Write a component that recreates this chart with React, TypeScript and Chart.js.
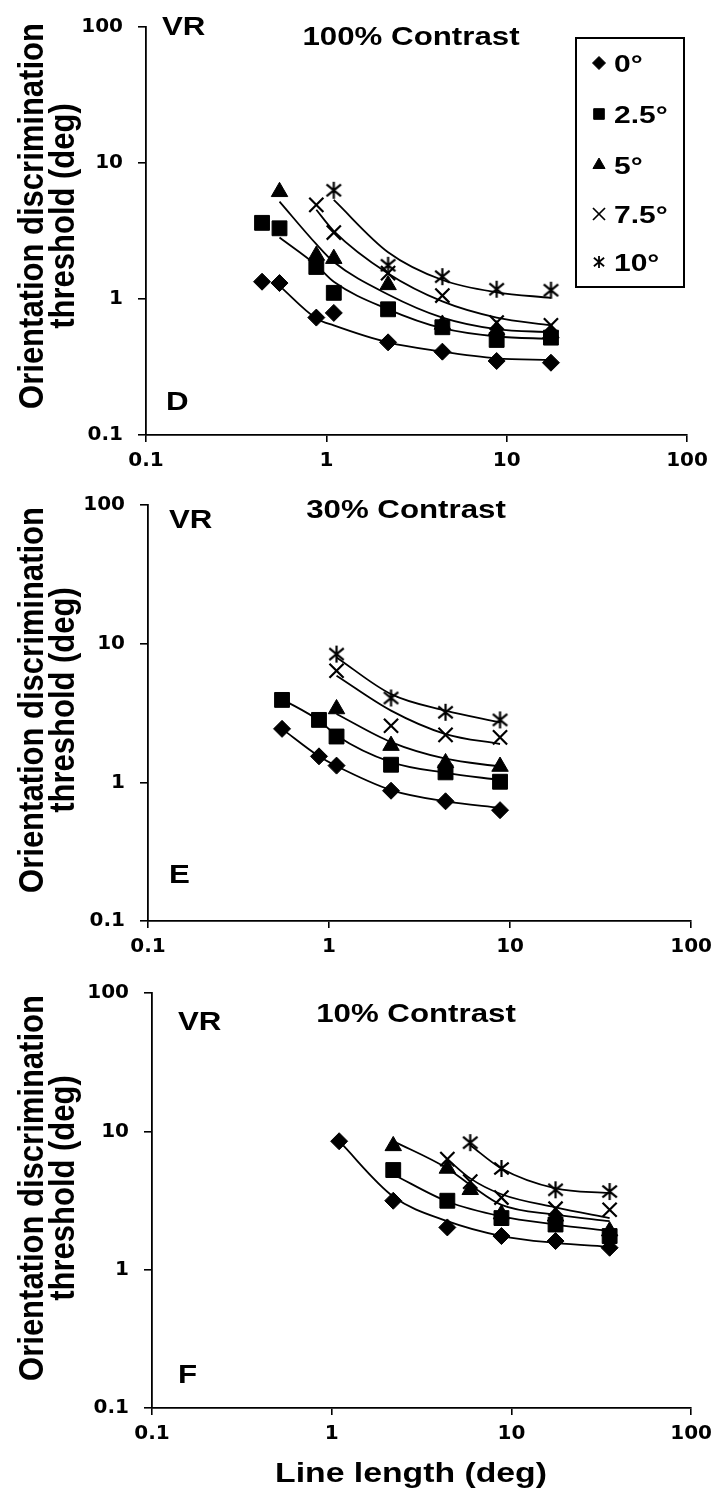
import React, { useEffect, useRef } from 'react';
import { Chart, registerables } from 'chart.js';
import { drawPoint } from 'chart.js/helpers';

Chart.register(...registerables);

const TICK_FONT = '"DejaVu Sans", "Liberation Sans", sans-serif';
const TEXT_FONT = '"Liberation Sans", Arial, sans-serif';
const STRETCH = 1.25; // the printed figure is widened horizontally
const TITLE_STRETCH = 1.12;

// ---------- labels ----------
const seriesLabels = ['0°', '2.5°', '5°', '7.5°', '10°'];
const xTickValues = [0.1, 1, 10, 100];
const yTickValues = [0.1, 1, 10, 100];
const yTitleLines = ['Orientation discrimination', 'threshold (deg)'];
const xTitleText = 'Line length (deg)';
const observer = 'VR';

// ---------- Panel D : 100% contrast ----------
const lenD = [0.44, 0.55, 0.88, 1.1, 2.2, 4.4, 8.8, 17.6];
const thrD0 = [1.34, 1.31, 0.73, 0.79, 0.48, 0.41, 0.35, 0.34];
const thrD25 = [3.63, 3.31, 1.72, 1.11, 0.84, 0.62, 0.5, 0.52];
const thrD5 = [null, 6.14, 2.09, 1.98, 1.27, 0.65, 0.59, 0.56];
const thrD75 = [null, null, 4.92, 3.08, 1.55, 1.06, 0.67, 0.64];
const thrD10 = [null, null, null, 6.3, 1.77, 1.46, 1.18, 1.16];
const fitD0 = [null, 1.25, 0.72, 0.64, 0.48, 0.41, 0.366, 0.356];
const fitD25 = [null, 2.83, 1.77, 1.34, 0.84, 0.61, 0.53, 0.51];
const fitD5 = [null, 5.2, 2.53, 1.87, 1.08, 0.73, 0.6, 0.57];
const fitD75 = [null, null, 4.53, 3.16, 1.54, 0.96, 0.73, 0.64];
const fitD10 = [null, null, null, 5.35, 2.21, 1.38, 1.12, 1.02];

// ---------- Panel E : 30% contrast ----------
const lenE = [0.55, 0.88, 1.1, 2.2, 4.4, 8.8];
const thrE0 = [2.43, 1.54, 1.32, 0.87, 0.73, 0.63];
const thrE25 = [3.93, 2.82, 2.14, 1.34, 1.18, 1.01];
const thrE5 = [null, null, 3.38, 1.84, 1.38, 1.3];
const thrE75 = [null, null, 6.38, 2.56, 2.2, 2.11];
const thrE10 = [null, null, 8.41, 4.06, 3.2, 2.82];
const fitE0 = [2.43, 1.54, 1.31, 0.88, 0.73, 0.655];
const fitE25 = [3.98, 2.79, 2.18, 1.4, 1.17, 1.04];
const fitE5 = [null, null, 3.11, 1.95, 1.48, 1.3];
const fitE75 = [null, null, 5.87, 3.29, 2.23, 1.89];
const fitE10 = [null, null, 7.96, 4.33, 3.29, 2.71];

// ---------- Panel F : 10% contrast ----------
const lenF = [1.1, 2.2, 4.4, 5.9, 8.8, 17.6, 35.2];
const thrF0 = [8.48, 3.15, 2.02, null, 1.75, 1.61, 1.44];
const thrF25 = [null, 5.25, 3.15, null, 2.36, 2.12, 1.75];
const thrF5 = [null, 7.85, 5.39, 3.78, 2.52, 2.43, 1.9];
const thrF75 = [null, null, 6.3, 4.33, 3.32, 2.76, 2.71];
const thrF10 = [null, null, null, 8.28, 5.39, 3.78, 3.67];
const fitF0 = [8.48, 3.38, 2.24, null, 1.75, 1.56, 1.46];
const fitF25 = [null, 4.88, 3.11, null, 2.43, 2.12, 1.9];
const fitF5 = [null, 8.5, 5.39, 4.1, 2.94, 2.5, 2.24];
const fitF75 = [null, null, 6.3, 4.57, 3.51, 2.82, 2.36];
const fitF10 = [null, null, null, 7.94, 5.39, 3.87, 3.57];

// ---------- marker helpers ----------
function makeAsterisk(size: number, lw: number) {
  const c = document.createElement('canvas');
  c.width = size;
  c.height = size;
  const g = c.getContext('2d')!;
  g.strokeStyle = '#000';
  g.lineWidth = lw;
  const m = size / 2;
  const r = size / 2 - 1;
  g.beginPath();
  g.moveTo(m, m - r);
  g.lineTo(m, m + r);
  g.moveTo(m - r * 0.85, m - r * 0.7);
  g.lineTo(m + r * 0.85, m + r * 0.7);
  g.moveTo(m - r * 0.85, m + r * 0.7);
  g.lineTo(m + r * 0.85, m - r * 0.7);
  g.stroke();
  return c;
}

const asteriskBig = makeAsterisk(19, 2.2);
const asteriskSmall = makeAsterisk(14, 1.8);

const markerDefs: any[] = [
  { style: 'rectRot', radius: 8.5, border: 1 },
  { style: 'rect', radius: 10.5, border: 1 },
  { style: 'triangle', radius: 9.5, border: 1 },
  { style: 'crossRot', radius: 10, border: 2.2 },
  { style: asteriskBig, radius: 9, border: 1 },
];
const legendMarkerDefs: any[] = [
  { style: 'rectRot', radius: 6.5, border: 1 },
  { style: 'rect', radius: 7.5, border: 1 },
  { style: 'triangle', radius: 7, border: 1 },
  { style: 'crossRot', radius: 8.5, border: 1.7 },
  { style: asteriskSmall, radius: 6, border: 1 },
];

function toPoints(xs: number[], ys: (number | null)[]) {
  const out: { x: number; y: number }[] = [];
  xs.forEach((x, i) => {
    const y = ys[i];
    if (y !== null && y !== undefined) out.push({ x, y });
  });
  return out;
}

type TextSpec = { text: string; x: number; y: number; size: number; align: CanvasTextAlign };

type PanelSpec = {
  top: number;
  height: number;
  plotTop: number;
  plotBottom: number;
  plotLeft: number;
  plotRight: number;
  len: number[];
  thr: (number | null)[][];
  fit: (number | null)[][];
  yTitleCenter: number;
  texts: TextSpec[];
  legend: boolean;
};

const panels: PanelSpec[] = [
  {
    top: 0,
    height: 475,
    plotTop: 21,
    plotBottom: 435,
    plotLeft: 146,
    plotRight: 687,
    len: lenD,
    thr: [thrD0, thrD25, thrD5, thrD75, thrD10],
    fit: [fitD0, fitD25, fitD5, fitD75, fitD10],
    yTitleCenter: 216,
    texts: [
      { text: observer, x: 162, y: 35, size: 25, align: 'left' },
      { text: '100% Contrast', x: 411, y: 45, size: 25, align: 'center' },
      { text: 'D', x: 166, y: 410, size: 25, align: 'left' },
    ],
    legend: true,
  },
  {
    top: 478,
    height: 480,
    plotTop: 504,
    plotBottom: 921,
    plotLeft: 148,
    plotRight: 697,
    len: lenE,
    thr: [thrE0, thrE25, thrE5, thrE75, thrE10],
    fit: [fitE0, fitE25, fitE5, fitE75, fitE10],
    yTitleCenter: 700,
    texts: [
      { text: observer, x: 169, y: 528, size: 25, align: 'left' },
      { text: '30% Contrast', x: 406, y: 518, size: 25, align: 'center' },
      { text: 'E', x: 169, y: 883, size: 25, align: 'left' },
    ],
    legend: false,
  },
  {
    top: 962,
    height: 533,
    plotTop: 993,
    plotBottom: 1408,
    plotLeft: 152,
    plotRight: 697,
    len: lenF,
    thr: [thrF0, thrF25, thrF5, thrF75, thrF10],
    fit: [fitF0, fitF25, fitF5, fitF75, fitF10],
    yTitleCenter: 1188,
    texts: [
      { text: observer, x: 178, y: 1030, size: 25, align: 'left' },
      { text: '10% Contrast', x: 416, y: 1022, size: 25, align: 'center' },
      { text: 'F', x: 178, y: 1383, size: 25, align: 'left' },
      { text: xTitleText, x: 411, y: 1482, size: 27, align: 'center' },
    ],
    legend: false,
  },
];

function stretchedText(ctx: CanvasRenderingContext2D, text: string, x: number, y: number, size: number, align: CanvasTextAlign) {
  ctx.save();
  ctx.font = `bold ${size}px ${TEXT_FONT}`;
  ctx.textAlign = align;
  ctx.textBaseline = 'alphabetic';
  ctx.translate(x, y);
  ctx.scale(STRETCH, 1);
  ctx.fillText(text, 0, 0);
  ctx.restore();
}

function makeOverlay(p: PanelSpec) {
  return {
    id: 'panelOverlay',
    afterDraw(chart: any) {
      const ctx: CanvasRenderingContext2D = chart.ctx;
      ctx.save();
      ctx.fillStyle = '#000';
      ctx.strokeStyle = '#000';
      // y-axis title (two lines, rotated)
      ctx.font = `bold 31px ${TEXT_FONT}`;
      ctx.textAlign = 'center';
      ctx.textBaseline = 'middle';
      yTitleLines.forEach((line, i) => {
        ctx.save();
        ctx.translate(33 + i * 31, p.yTitleCenter - p.top);
        ctx.scale(TITLE_STRETCH, 1);
        ctx.rotate(-Math.PI / 2);
        ctx.fillText(line, 0, 0);
        ctx.restore();
      });
      // panel texts
      p.texts.forEach((t) => stretchedText(ctx, t.text, t.x, t.y - p.top, t.size, t.align));
      // legend
      if (p.legend) {
        ctx.lineWidth = 2;
        ctx.strokeRect(576, 38 - p.top, 108, 249);
        const rows = [63, 114, 165, 214, 262];
        seriesLabels.forEach((lab, i) => {
          const md = legendMarkerDefs[i];
          ctx.fillStyle = '#000';
          ctx.strokeStyle = '#000';
          ctx.lineWidth = md.border;
          drawPoint(ctx, { pointStyle: md.style, radius: md.radius, rotation: 0, borderWidth: md.border }, 599, rows[i] - p.top);
          stretchedText(ctx, lab, 614, rows[i] + 8.5 - p.top, 24, 'left');
        });
      }
      ctx.restore();
    },
  };
}

function buildConfig(p: PanelSpec): any {
  const datasets: any[] = [];
  p.fit.forEach((f, i) => {
    datasets.push({
      label: seriesLabels[i] + ' fit',
      data: toPoints(p.len, f),
      showLine: true,
      borderColor: '#000',
      borderWidth: 1.8,
      pointRadius: 0,
      pointHoverRadius: 0,
      cubicInterpolationMode: 'monotone',
      fill: false,
      order: 2,
    });
  });
  p.thr.forEach((t, i) => {
    const md = markerDefs[i];
    datasets.push({
      label: seriesLabels[i],
      data: toPoints(p.len, t),
      showLine: false,
      pointStyle: md.style,
      pointRadius: md.radius,
      pointHoverRadius: md.radius,
      pointBackgroundColor: '#000',
      pointBorderColor: '#000',
      pointBorderWidth: md.border,
      order: 1,
    });
  });
  const tickFont = { family: TICK_FONT, size: 20, weight: 'bold' as const };
  return {
    type: 'scatter',
    data: { datasets },
    options: {
      animation: false,
      responsive: false,
      maintainAspectRatio: false,
      events: [],
      layout: {
        padding: { left: 0, top: p.plotTop - p.top, right: 719 - p.plotRight, bottom: 0 },
      },
      plugins: { legend: { display: false }, tooltip: { enabled: false } },
      scales: {
        x: {
          type: 'logarithmic',
          position: 'bottom',
          min: 0.1,
          max: 100,
          afterBuildTicks: (s: any) => {
            s.ticks = xTickValues.map((v) => ({ value: v }));
          },
          afterFit: (s: any) => {
            s.height = p.top + p.height - p.plotBottom;
          },
          grid: { display: true, drawOnChartArea: false, drawTicks: true, tickLength: 7, color: '#000', lineWidth: 1.6 },
          border: { display: true, color: '#000', width: 1.8 },
          ticks: {
            color: '#000',
            font: tickFont,
            padding: 7,
            maxRotation: 0,
            autoSkip: false,
            callback: (v: any) => String(Number(v)),
          },
        },
        y: {
          type: 'logarithmic',
          position: 'left',
          min: 0.1,
          max: 100,
          afterBuildTicks: (s: any) => {
            s.ticks = yTickValues.map((v) => ({ value: v }));
          },
          afterFit: (s: any) => {
            s.width = p.plotLeft;
          },
          grid: { display: true, drawOnChartArea: false, drawTicks: true, tickLength: 8, color: '#000', lineWidth: 1.6 },
          border: { display: true, color: '#000', width: 1.8 },
          ticks: {
            color: '#000',
            font: tickFont,
            padding: 15,
            autoSkip: false,
            callback: (v: any) => String(Number(v)),
          },
        },
      },
    },
    plugins: [makeOverlay(p)],
  };
}

function Panel({ spec }: { spec: PanelSpec }) {
  const ref = useRef<HTMLCanvasElement>(null);
  useEffect(() => {
    const chart = new Chart(ref.current as HTMLCanvasElement, buildConfig(spec));
    return () => chart.destroy();
  }, [spec]);
  return (
    <canvas
      ref={ref}
      width={719}
      height={spec.height}
      style={{ position: 'absolute', left: 0, top: spec.top, width: 719, height: spec.height }}
    />
  );
}

export default function App() {
  return (
    <div style={{ position: 'absolute', left: 0, top: 0, width: 719, height: 1495, background: '#fff', overflow: 'hidden' }}>
      {panels.map((p, i) => (
        <Panel key={i} spec={p} />
      ))}
    </div>
  );
}
